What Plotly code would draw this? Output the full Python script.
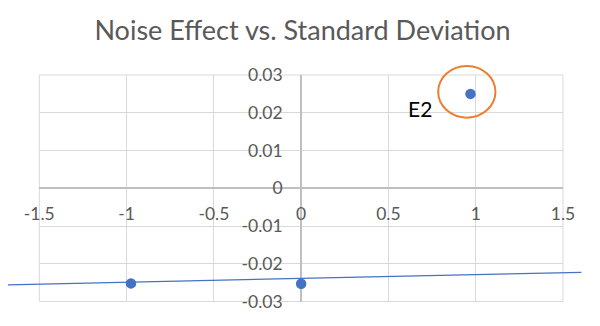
import plotly.graph_objects as go

# ---- data ----
x_values = [-0.975, 0.0, 0.97]
y_values = [-0.0252, -0.0253, 0.0250]
trend_x = [-1.68, 1.605]
trend_y = [-0.02557, -0.02228]
x_tick_vals = [-1.5, -1.0, -0.5, 0.0, 0.5, 1.0, 1.5]
x_tick_text = ["-1.5", "-1", "-0.5", "0", "0.5", "1", "1.5"]
y_tick_vals = [-0.03, -0.02, -0.01, 0.0, 0.01, 0.02, 0.03]
y_tick_text = ["-0.03", "-0.02", "-0.01", "0", "0.01", "0.02", "0.03"]
label_text = "E2"
label_pos = [0.678, 0.0212]
circle_box = [0.785, 1.113, 0.0187, 0.0324]  # x0, x1, y0, y1
title_text = "Noise Effect vs. Standard Deviation"

# ---- layout geometry (pixels) ----
W, H = 600, 326
L, R, T, B = 39.3, 563.0, 75.0, 301.5
xmin, xmax = -1.5, 1.5
ymin, ymax = -0.03, 0.03
xs = (xmax - xmin) / (R - L)
ys = (ymax - ymin) / (B - T)
x2_range = [xmin - L * xs, xmax + (W - R) * xs]
y2_range = [ymin - (H - B) * ys, ymax + T * ys]

FONT = "Lato"
TXT = "#595959"
GRID = "#d9d9d9"
ZERO = "#bfbfbf"
BLUE = "#4472C4"
ORANGE = "#ED7D31"

fig = go.Figure()

# outer grid border (plotly drops gridlines lying on the range edges)
fig.add_shape(type="rect", xref="x domain", yref="y domain",
              x0=0, x1=1, y0=0, y1=1, line=dict(color=GRID, width=1),
              layer="below")

# trendline on the extended (full-paper) axes so it can run past the plot area
fig.add_trace(go.Scatter(
    x=trend_x, y=trend_y, mode="lines", xaxis="x2", yaxis="y2",
    line=dict(color=BLUE, width=1.3), hoverinfo="skip", showlegend=False))

fig.add_trace(go.Scatter(
    x=x_values, y=y_values, mode="markers",
    marker=dict(color=BLUE, size=10.5), showlegend=False, cliponaxis=False))

fig.add_shape(type="circle", xref="x2", yref="y2",
              x0=circle_box[0], x1=circle_box[1], y0=circle_box[2], y1=circle_box[3],
              line=dict(color=ORANGE, width=2))

fig.add_annotation(x=label_pos[0], y=label_pos[1], xref="x", yref="y",
                   text=label_text, showarrow=False,
                   font=dict(family=FONT, size=21, color="#000000"))

fig.update_layout(
    width=W, height=H, autosize=False, showlegend=False,
    margin=dict(l=0, r=0, t=0, b=0, pad=0),
    paper_bgcolor="white", plot_bgcolor="rgba(0,0,0,0)",
    title=dict(text=title_text, x=302.5 / W, xanchor="center",
               y=1 - 31 / H, yanchor="middle", yref="container",
               font=dict(family=FONT, size=27, color=TXT)),
    xaxis=dict(
        domain=[L / W, R / W], range=[xmin, xmax], automargin=False,
        tickvals=x_tick_vals, ticktext=x_tick_text,
        anchor="free", position=1 - (T + B) / 2 / H,
        showgrid=True, gridcolor=GRID, gridwidth=1,
        zeroline=True, zerolinecolor=ZERO, zerolinewidth=1.5,
        showline=False, ticks="outside", ticklen=10, tickcolor="rgba(0,0,0,0)",
        tickfont=dict(family=FONT, size=17.5, color=TXT), fixedrange=True),
    yaxis=dict(
        domain=[1 - B / H, 1 - T / H], range=[ymin, ymax], automargin=False,
        tickvals=y_tick_vals, ticktext=y_tick_text,
        anchor="free", position=(L + R) / 2 / W, side="left",
        showgrid=True, gridcolor=GRID, gridwidth=1,
        zeroline=True, zerolinecolor=ZERO, zerolinewidth=1.5,
        showline=False, ticks="outside", ticklen=15, tickcolor="rgba(0,0,0,0)",
        tickfont=dict(family=FONT, size=17.5, color=TXT), fixedrange=True),
    xaxis2=dict(domain=[0, 1], range=x2_range, anchor="y2", visible=False,
                automargin=False, showgrid=False, zeroline=False, fixedrange=True),
    yaxis2=dict(domain=[0, 1], range=y2_range, anchor="x2", visible=False,
                automargin=False, showgrid=False, zeroline=False, fixedrange=True),
)

fig.write_html("out.html")
